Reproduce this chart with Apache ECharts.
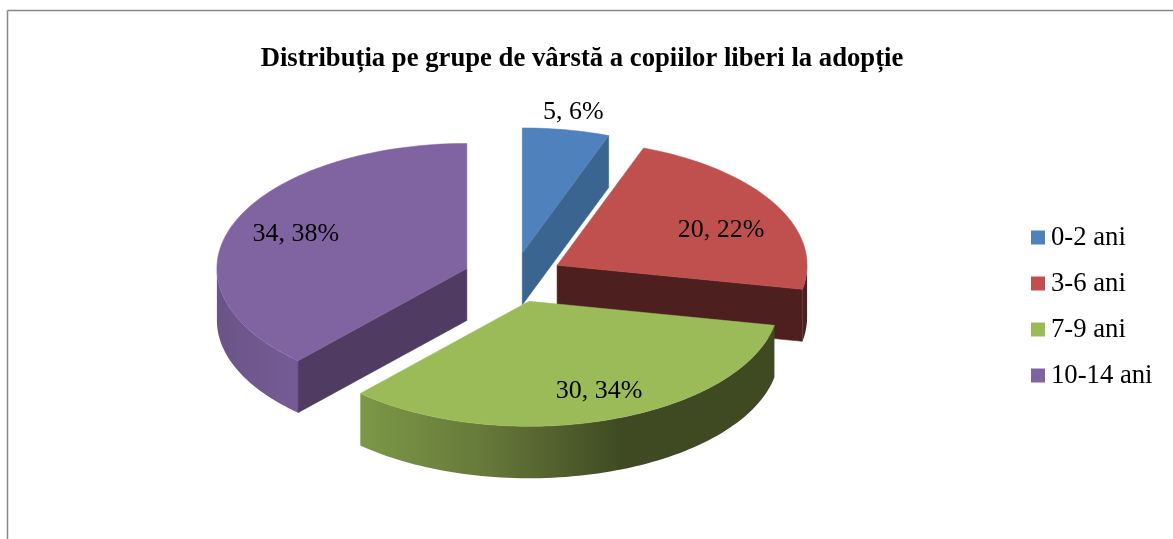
<!DOCTYPE html>
<html>
<head>
<meta charset="utf-8">
<style>html,body{margin:0;padding:0;background:#fff}#c{width:1173px;height:539px}</style>
<script src="https://cdn.jsdelivr.net/npm/echarts@6/dist/echarts.min.js"></script>
</head>
<body>
<div id="c"></div>
<script>
var titleText = 'Distribuția pe grupe de vârstă a copiilor liberi la adopție';
var categories = ['0-2 ani', '3-6 ani', '7-9 ani', '10-14 ani'];
var values = [5, 20, 30, 34];
var topColors = ['#4f81bd', '#c0504d', '#9bbb59', '#8064a2'];
var wallColors = ['#3b6591', '#4d1f1f', '#3f4a22', '#503c63'];
var drawOrder = [1, 2, 4, 3];
var labelOffsets = [[51, -141], [164, -35], [70, 90], [-171, -34]];

var FONT = '"Liberation Serif","Times New Roman",serif';
var total = values.reduce(function (a, b) { return a + b; }, 0);
var CX = 513.5, CY = 277.5, RX = 250, RY = 125, DEPTH = 52, EXPLODE = 1 / 5;
var RAD = Math.PI / 180;

function angles(i) {
  var before = values.slice(0, i).reduce(function (a, b) { return a + b; }, 0);
  return [before / total * 360, (before + values[i]) / total * 360];
}
function pt(o, a, r) {
  return [o[0] + RX * r * Math.sin(a * RAD), o[1] - RY * r * Math.cos(a * RAD)];
}
function arc(o, a0, a1, dy) {
  var out = [], n = Math.max(2, Math.ceil(Math.abs(a1 - a0) / 1.5));
  for (var k = 0; k <= n; k++) {
    var p = pt(o, a0 + (a1 - a0) * k / n, 1);
    out.push([p[0], p[1] + dy]);
  }
  return out;
}
function poly(points, fill, stroke) {
  return { type: 'polygon', shape: { points: points },
    style: { fill: fill, stroke: stroke || fill, lineWidth: 0.5 } };
}
function wall(o, a) {
  var p = pt(o, a, 1);
  return [o, p, [p[0], p[1] + DEPTH], [o[0], o[1] + DEPTH]];
}
function outerFill(i) {
  if (i === 2) return { type: 'linear', x: 0, y: 0, x2: 1, y2: 0, colorStops: [
    { offset: 0, color: '#7c9847' }, { offset: 0.3, color: '#66793a' },
    { offset: 0.63, color: '#3f4a22' }, { offset: 1, color: '#3f4a22' }] };
  if (i === 3) return { type: 'linear', x: 0, y: 0, x2: 1, y2: 0, colorStops: [
    { offset: 0, color: '#6a5486' }, { offset: 1, color: '#765c96' }] };
  return wallColors[i];
}
function sliceRenderer(i) {
  return function () {
    var a = angles(i), mid = (a[0] + a[1]) / 2;
    var o = pt([CX, CY], mid, EXPLODE);
    var kids = [];
    var s0 = Math.max(a[0], 90), s1 = Math.min(a[1], 270);
    if (s1 > s0) {
      kids.push(poly(arc(o, s0, s1, 0).concat(arc(o, s1, s0, DEPTH)), outerFill(i), 'transparent'));
    }
    if (Math.sin(a[1] * RAD) > 0.01) kids.push(poly(wall(o, a[1]), wallColors[i]));
    if (Math.sin(a[0] * RAD) < -0.01) kids.push(poly(wall(o, a[0]), wallColors[i]));
    kids.push(poly([o].concat(arc(o, a[0], a[1], 0)), topColors[i]));
    kids.push({ type: 'text', z2: 100, style: {
      text: values[i] + ', ' + Math.round(values[i] / total * 100) + '%',
      x: o[0] + labelOffsets[i][0], y: o[1] + labelOffsets[i][1],
      align: 'center', verticalAlign: 'middle',
      font: '26px ' + FONT, fill: '#000' } });
    return { type: 'group', children: kids };
  };
}

var chart = echarts.init(document.getElementById('c'), null, { renderer: 'canvas' });
chart.setOption({
  animation: false,
  backgroundColor: '#fff',
  title: { text: titleText, left: 577, top: 41, textAlign: 'center',
    textStyle: { fontFamily: FONT, fontSize: 26.7, fontWeight: 'bold', color: '#000' } },
  legend: { data: categories, orient: 'vertical', left: 1026, top: 219, itemWidth: 14, itemHeight: 14,
    itemGap: 19, icon: 'rect', selectedMode: false,
    textStyle: { fontFamily: FONT, fontSize: 26.7, color: '#000', padding: [0, 0, 0, 1] } },
  graphic: [
    { type: 'line', shape: { x1: 7.5, y1: 10.5, x2: 1173, y2: 10.5 }, style: { stroke: '#888', lineWidth: 1.5 } },
    { type: 'line', shape: { x1: 7.5, y1: 10.5, x2: 7.5, y2: 539 }, style: { stroke: '#888', lineWidth: 1.5 } }
  ],
  series: categories.map(function (name, i) {
    return { type: 'custom', name: name, coordinateSystem: 'none', silent: true, z: 2 + drawOrder[i],
      itemStyle: { color: topColors[i] }, data: [values[i]], renderItem: sliceRenderer(i) };
  })
});
</script>
</body>
</html>
